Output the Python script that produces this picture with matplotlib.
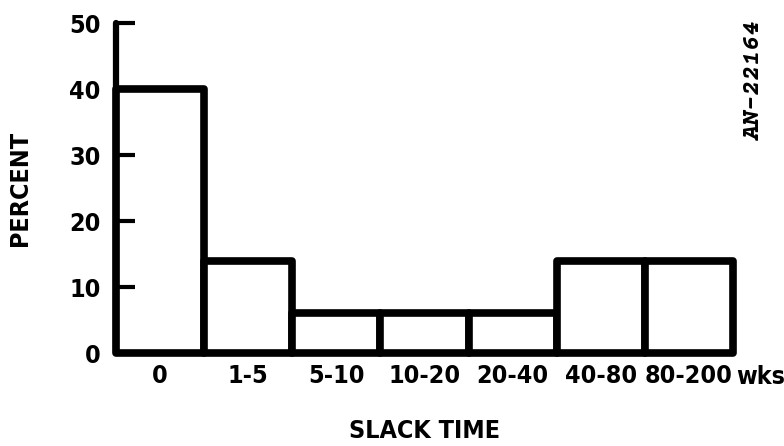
import matplotlib
matplotlib.use("Agg")
import matplotlib.pyplot as plt

# slack time histogram (percent of items per bin)
bins = ["0", "1-5", "5-10", "10-20", "20-40", "40-80", "80-200"]
percent = [40, 14, 6, 6, 6, 14, 14]
yticks = [0, 10, 20, 30, 40, 50]

LBL = dict(family="DejaVu Sans", stretch="condensed", weight="bold", size=18)

fig = plt.figure(figsize=(7.84, 4.46), dpi=100)
ax = fig.add_axes([0.148, 0.2085, 0.787, 0.7395])
ax.set_axisbelow(False)

x = list(range(len(bins)))
ax.bar(x, percent, width=1.0, color="white", edgecolor="black",
       linewidth=5.5, joinstyle="round", clip_on=False, zorder=1)

ax.set_xlim(-0.5, len(bins) - 0.5)
ax.set_ylim(0, 50)

for s in ["top", "right", "bottom"]:
    ax.spines[s].set_visible(False)
ax.spines["left"].set_linewidth(4.5)
ax.spines["left"].set_capstyle("round")

ax.set_yticks(yticks)
ax.set_yticklabels([str(v) for v in yticks], fontdict=LBL)
ax.tick_params(axis="y", direction="in", length=14, width=3, pad=11)
ax.set_xticks(x)
ax.set_xticklabels(bins, fontdict=LBL)
ax.tick_params(axis="x", length=0, pad=8)

ax.text(1.005, -0.037, "wks", transform=ax.transAxes, ha="left", va="top", **LBL)
ax.set_ylabel("PERCENT", fontdict=LBL, labelpad=27)
ax.set_xlabel("SLACK TIME", fontdict=LBL, labelpad=22)

fig.text(0.962, 0.82, "AN-22164", rotation=90, ha="center", va="center",
         family="Courier Prime", style="italic", weight="bold", size=18)

fig.savefig("out.png", dpi=100)
